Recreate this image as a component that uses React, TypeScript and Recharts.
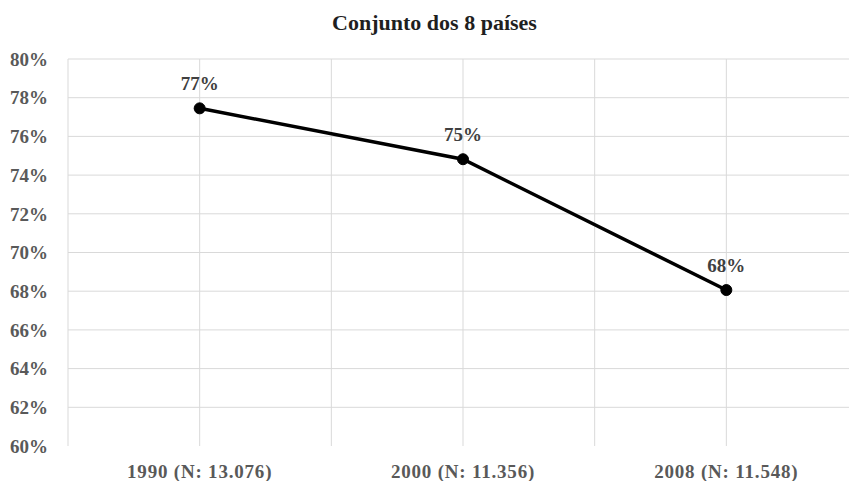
import React from 'react';
import {
  LineChart,
  Line,
  XAxis,
  YAxis,
  CartesianGrid,
  LabelList,
} from 'recharts';

// survey waves and share (%) for the 8 countries combined
const categories = ['1990 (N: 13.076)', '2000 (N: 11.356)', '2008 (N: 11.548)'];
const shares = [77.45, 74.82, 68.06];
const yTicks = [60, 62, 64, 66, 68, 70, 72, 74, 76, 78, 80];
const gridY = [62, 64, 66, 68, 70, 72, 74, 76, 78, 80];
const gridX = [0, 0.5, 1, 1.5, 2, 2.5, 3];
const xTicks = [0.5, 1.5, 2.5];

const data = categories.map((label, i) => ({
  x: i + 0.5,
  label,
  share: shares[i],
}));

const FONT = '"Liberation Serif", "Times New Roman", serif';

export default function App() {
  return (
    <div
      style={{
        position: 'absolute',
        left: 0,
        top: 0,
        width: 849,
        height: 481,
        background: '#fff',
        overflow: 'hidden',
      }}
    >
      <div
        style={{
          position: 'absolute',
          top: 12,
          left: 10,
          width: 849,
          textAlign: 'center',
          fontFamily: FONT,
          fontWeight: 700,
          fontSize: 22,
          lineHeight: '22px',
          color: '#1f1f1f',
        }}
      >
        Conjunto dos 8 países
      </div>
      <LineChart
        width={849}
        height={481}
        data={data}
        margin={{ top: 59, right: -9, bottom: 0, left: 8 }}
      >
        <CartesianGrid
          stroke="#d9d9d9"
          strokeWidth={1}
          horizontalValues={gridY}
          verticalValues={gridX}
        />
        <XAxis
          dataKey="x"
          type="number"
          domain={[0, 3]}
          ticks={xTicks}
          tickFormatter={(v: number) => categories[Math.floor(v)]}
          axisLine={false}
          tickLine={false}
          tickSize={0}
          tickMargin={19}
          height={35}
          interval={0}
          tick={{
            fill: '#595959',
            fontFamily: FONT,
            fontWeight: 700,
            fontSize: 19,
            letterSpacing: 0.8,
          }}
        />
        <YAxis
          domain={[60, 80]}
          ticks={yTicks}
          allowDataOverflow
          tickFormatter={(v: number) => `${v}%`}
          axisLine={false}
          tickLine={false}
          tickSize={0}
          tickMargin={20}
          width={60}
          interval={0}
          tick={{
            fill: '#595959',
            fontFamily: FONT,
            fontWeight: 700,
            fontSize: 19,
          }}
        />
        <Line
          type="linear"
          dataKey="share"
          stroke="#000"
          strokeWidth={3.5}
          dot={{ r: 5.5, fill: '#000', stroke: '#000', strokeWidth: 1 }}
          activeDot={false}
          isAnimationActive={false}
        >
          <LabelList
            dataKey="share"
            position="top"
            offset={18}
            formatter={(v: number) => `${Math.round(v)}%`}
            style={{
              fill: '#404040',
              fontFamily: FONT,
              fontWeight: 700,
              fontSize: 19,
            }}
          />
        </Line>
      </LineChart>
    </div>
  );
}
